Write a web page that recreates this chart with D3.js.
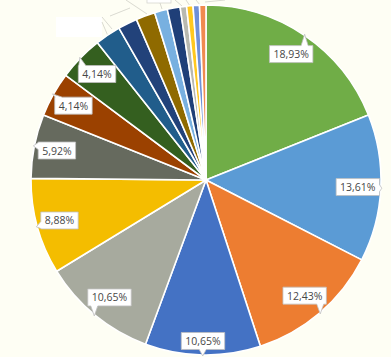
<!DOCTYPE html>
<html>
<head>
<meta charset="utf-8">
<script src="https://cdn.jsdelivr.net/npm/d3@7"></script>
<style>
  html, body { margin: 0; padding: 0; background: #fefef4; }
  svg { display: block; }
</style>
</head>
<body>
<svg id="chart" width="391" height="357"></svg>
<script>
// Data (counts out of 169 responses), clockwise from 12 o'clock
const categories = ["A","B","C","D","E","F","G","H","I","J","K","L","M","N","O","P","Q","R"];
const values = [32, 23, 21, 18, 18, 15, 10, 7, 7, 4, 3, 3, 2, 2, 1, 1, 1, 1];
const colors = ["#70ad47","#5b9bd5","#ed7d31","#4472c4","#a7aa9e","#f4bd00","#666a5e","#9b4100",
                "#345f1f","#215d8b","#22427a","#8f6a00","#78b0e0","#1f3f78","#b8b9b0","#ffc820","#6f90d8","#f08a50"];
const labelShown = [true,true,true,true,true,true,true,true,true,false,false,false,false,false,false,false,false,false];

const svg = d3.select("#chart");
const cx = 206, cy = 180, R = 175;
const total = d3.sum(values);
const fmt = v => (v / total * 100).toFixed(2).replace(".", ",") + "%";

// faint leader lines / clipped labels at top (for small slices, labels off-canvas)
const deco = svg.append("g");
deco.append("rect").attr("x", 56).attr("y", 17).attr("width", 46).attr("height", 20)
  .attr("fill", "#ffffff").attr("stroke", "none");
deco.append("rect").attr("x", 147).attr("y", -5).attr("width", 24).attr("height", 8)
  .attr("fill", "#ffffff").attr("stroke", "#d6d6d0").attr("stroke-width", 0.8);
const leader = [[[102,17],[112,29]],[[102,22],[108,36]],[[110,16],[130,8]],[[126,0],[147,14]],
                [[160,3],[162,9]],[[175,0],[182,6]],[[186,0],[190,6]],[[196,0],[200,5]],[[205,2],[225,0]]];
leader.forEach(l => deco.append("line")
  .attr("x1", l[0][0]).attr("y1", l[0][1]).attr("x2", l[1][0]).attr("y2", l[1][1])
  .attr("stroke", "#d0d0c8").attr("stroke-width", 0.8));

const pie = d3.pie().sort(null).value(d => d)(values);
const arc = d3.arc().innerRadius(0).outerRadius(R);

const g = svg.append("g").attr("transform", `translate(${cx},${cy})`);
g.selectAll("path.slice").data(pie).enter().append("path")
  .attr("class", "slice")
  .attr("d", arc)
  .attr("fill", (d, i) => colors[i])
  .attr("stroke", "#ffffff")
  .attr("stroke-width", 1.6)
  .attr("stroke-linejoin", "round");

// labels with callout boxes
const lg = svg.append("g");
pie.forEach((d, i) => {
  if (!labelShown[i]) return;
  const a = (d.startAngle + d.endAngle) / 2;
  const lr = Math.abs(a - Math.PI) < 0.18 ? 161 : 152;
  const lx = cx + lr * Math.sin(a), ly = cy - lr * Math.cos(a);
  const txt = fmt(values[i]);
  const t = lg.append("text").attr("x", lx).attr("y", ly + 4)
    .attr("text-anchor", "middle")
    .attr("font-family", "'Open Sans', 'Liberation Sans', sans-serif")
    .attr("font-size", 10.5).attr("fill", "#474747").text(txt);
  const w = t.node().getComputedTextLength() + 8, h = 17;
  const x0 = lx - w / 2, x1 = lx + w / 2, y0 = ly - h / 2, y1 = ly + h / 2;
  const tx = cx + (R + 1) * Math.sin(a), ty = cy - (R + 1) * Math.cos(a);
  const rx = (tx - lx) / (w / 2), ry = (ty - ly) / (h / 2);
  let pts;
  const clampX = v => Math.max(x0 + 4, Math.min(x1 - 4, v));
  const clampY = v => Math.max(y0 + 4, Math.min(y1 - 4, v));
  if (Math.abs(ry) >= Math.abs(rx)) {
    const bx = clampX(tx);
    if (ry < 0) pts = [[x0,y0],[bx-3.5,y0],[tx,ty],[bx+3.5,y0],[x1,y0],[x1,y1],[x0,y1]];
    else pts = [[x0,y0],[x1,y0],[x1,y1],[bx+3.5,y1],[tx,ty],[bx-3.5,y1],[x0,y1]];
  } else {
    const by = clampY(ty);
    if (rx > 0) pts = [[x0,y0],[x1,y0],[x1,by-3.5],[tx,ty],[x1,by+3.5],[x1,y1],[x0,y1]];
    else pts = [[x0,y0],[x1,y0],[x1,y1],[x0,y1],[x0,by+3.5],[tx,ty],[x0,by-3.5]];
  }
  lg.insert("path", "text").attr("d", d3.line()(pts) + "Z")
    .attr("fill", "#ffffff").attr("stroke", "#bfbfbf").attr("stroke-width", 0.8);
});
</script>
</body>
</html>
